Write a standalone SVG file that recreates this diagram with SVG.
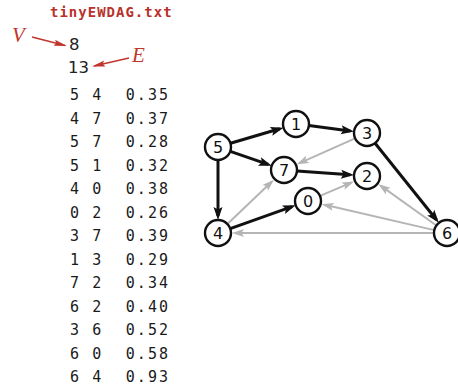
<svg xmlns="http://www.w3.org/2000/svg" width="458" height="390" viewBox="0 0 458 390">
<style>
.title{font-family:"DejaVu Sans Mono",monospace;font-weight:bold;font-size:14px;fill:#b8312a;letter-spacing:1px}
.big{font-family:"DejaVu Sans",sans-serif;font-size:16.5px;fill:#222}
.row{font-family:"DejaVu Sans Mono",monospace;font-size:15px;fill:#1a1a1a;letter-spacing:2.1px;white-space:pre}
.ann{font-family:"Liberation Serif",serif;font-style:italic;font-size:21px;fill:#c0362c}
.node circle{fill:#fff;stroke:#111;stroke-width:2.4}
.node text{font-family:"DejaVu Sans",sans-serif;font-size:16px;fill:#111;text-anchor:middle}
.blk{stroke:#111;stroke-width:3;fill:none;marker-end:url(#ab)}
.gry{stroke:#b5b5b5;stroke-width:2;fill:none;marker-end:url(#ag)}
.red{stroke:#c0362c;stroke-width:1.6;fill:none;marker-end:url(#ar)}
</style>
<defs>
<marker id="ab" markerUnits="userSpaceOnUse" markerWidth="14" markerHeight="10" refX="9" refY="4.5" orient="auto" overflow="visible"><path d="M0,0 L13,4.5 L0,9 L2.5,4.5 z" fill="#111"/></marker>
<marker id="ag" markerUnits="userSpaceOnUse" markerWidth="14" markerHeight="10" refX="9" refY="4" orient="auto" overflow="visible"><path d="M0,0 L12,4 L0,8 L2.5,4 z" fill="#b5b5b5"/></marker>
<marker id="ar" markerUnits="userSpaceOnUse" markerWidth="14" markerHeight="8" refX="11" refY="3" orient="auto" overflow="visible"><path d="M0,0 L13,3 L0,6 L2,3 z" fill="#c0362c"/></marker>
</defs>
<g id="file">
<text class="title" x="50" y="17">tinyEWDAG.txt</text>
<text class="big" x="69" y="50">8</text>
<text class="big" x="68" y="73">13</text>
<text class="row" x="70" y="100">5 4  0.35</text>
<text class="row" x="70" y="123.5">4 7  0.37</text>
<text class="row" x="70" y="147">5 7  0.28</text>
<text class="row" x="70" y="170.5">5 1  0.32</text>
<text class="row" x="70" y="194">4 0  0.38</text>
<text class="row" x="70" y="217.5">0 2  0.26</text>
<text class="row" x="70" y="241">3 7  0.39</text>
<text class="row" x="70" y="264.5">1 3  0.29</text>
<text class="row" x="70" y="288">7 2  0.34</text>
<text class="row" x="70" y="311.5">6 2  0.40</text>
<text class="row" x="70" y="335">3 6  0.52</text>
<text class="row" x="70" y="358.5">6 0  0.58</text>
<text class="row" x="70" y="382">6 4  0.93</text>
</g>
<g id="annotations">
<text class="ann" x="12" y="42">V</text>
<text class="ann" x="132" y="62">E</text>
<line class="red" x1="32" y1="37" x2="65" y2="45.5"/>
<line class="red" x1="129" y1="58" x2="94" y2="66"/>
</g>
<g id="connectors">
<line class="blk" x1="230.5" y1="143.3" x2="279.7" y2="128.8"/>
<line class="blk" x1="308.9" y1="125.6" x2="350.1" y2="130.9"/>
<line class="blk" x1="230.3" y1="151.3" x2="268" y2="164.4"/>
<line class="blk" x1="297" y1="170.9" x2="350" y2="174.8"/>
<line class="blk" x1="218" y1="160" x2="218" y2="216"/>
<line class="blk" x1="230.2" y1="228.6" x2="292" y2="206.7"/>
<line class="blk" x1="375.1" y1="143.2" x2="436.4" y2="219.7"/>
<line class="gry" x1="355.1" y1="138.3" x2="299.5" y2="163.1"/>
<line class="gry" x1="227.4" y1="224" x2="271.7" y2="181.7"/>
<line class="gry" x1="320" y1="195.9" x2="351.3" y2="182.6"/>
<line class="gry" x1="436.4" y1="225.5" x2="380.9" y2="185.9"/>
<line class="gry" x1="434.3" y1="230.1" x2="324.6" y2="204.8"/>
<line class="gry" x1="434" y1="233" x2="235" y2="233"/>
</g>
<g id="n5" class="node"><circle cx="218" cy="147" r="13"/><text x="218" y="153">5</text></g>
<g id="n1" class="node"><circle cx="296" cy="124" r="13"/><text x="296" y="130">1</text></g>
<g id="n3" class="node"><circle cx="367" cy="133" r="13"/><text x="367" y="139">3</text></g>
<g id="n7" class="node"><circle cx="284" cy="170" r="13"/><text x="284" y="176">7</text></g>
<g id="n2" class="node"><circle cx="367" cy="176" r="13"/><text x="367" y="182">2</text></g>
<g id="n0" class="node"><circle cx="308" cy="201" r="13"/><text x="308" y="207">0</text></g>
<g id="n4" class="node"><circle cx="218" cy="233" r="13"/><text x="218" y="239">4</text></g>
<g id="n6" class="node"><circle cx="447" cy="233" r="13"/><text x="447" y="239">6</text></g>
</svg>
